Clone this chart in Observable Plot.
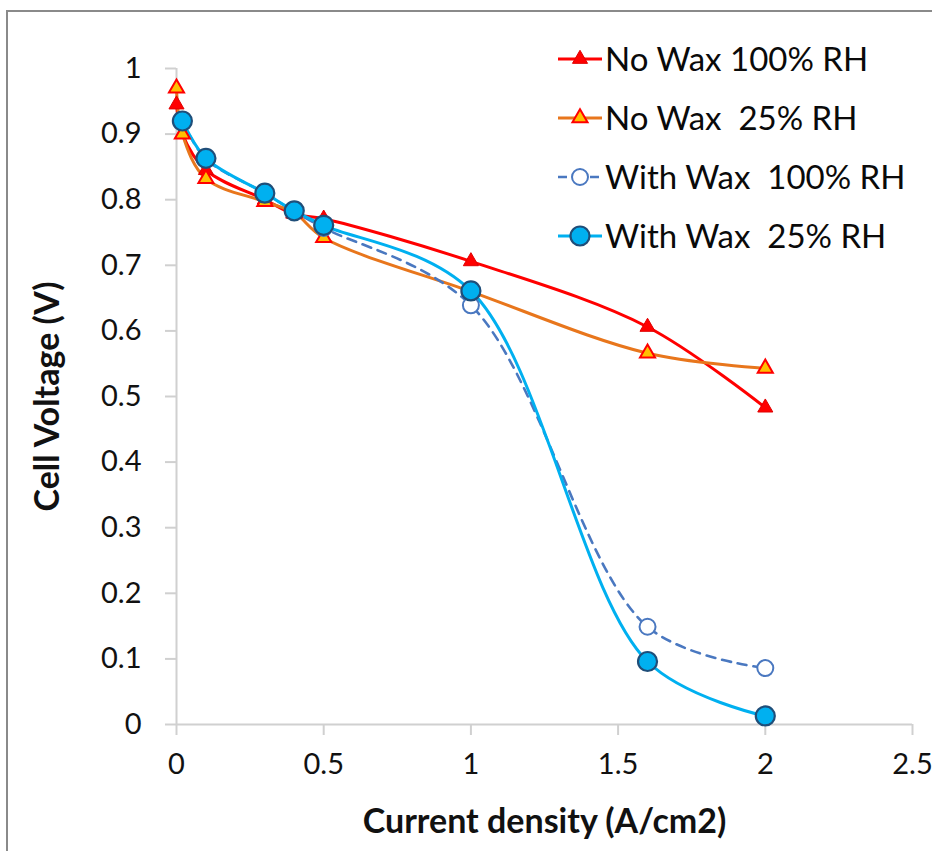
<!DOCTYPE html>
<html>
<head>
<meta charset="utf-8">
<script src="https://cdn.jsdelivr.net/npm/d3@7"></script>
<script src="https://cdn.jsdelivr.net/npm/@observablehq/plot@0.6"></script>
<style>
  html, body { margin: 0; padding: 0; background: #fff; }
  #wrap { position: relative; width: 932px; height: 851px; overflow: hidden; font-family: Lato, "Open Sans", sans-serif; }
  #border { position: absolute; left: 6px; top: 10px; right: -10px; bottom: -10px;
            border-left: 2px solid #8a8a8a; border-top: 2px solid #8a8a8a; pointer-events: none; }
  #legend { position: absolute; left: 558px; top: 29px; }
  .row { display: flex; align-items: center; height: 59px; }
  .row svg { flex: none; }
  .row span { font-size: 33px; color: #0a0a0a; white-space: pre; margin-left: 1px; line-height: 1; }
</style>
</head>
<body>
<div id="wrap">
  <div id="chart"></div>
  <div id="border"></div>
  <div id="legend"></div>
</div>
<script>
// Polarization curves: current density (A/cm2) vs. cell voltage (V)
const noWaxCurrent = [0, 0.02, 0.1, 0.3, 0.4, 0.5, 1.0, 1.6, 2.0];
const noWax100 = [0.945, 0.900, 0.845, 0.800, 0.778, 0.771, 0.706, 0.606, 0.483];
const noWax25  = [0.970, 0.900, 0.832, 0.797, 0.780, 0.742, 0.660, 0.566, 0.543];

const withWaxCurrent = [0.02, 0.1, 0.3, 0.4, 0.5, 1.0, 1.6, 2.0];
const withWax100 = [0.920, 0.862, 0.810, 0.782, 0.757, 0.639, 0.149, 0.086];
const withWax25  = [0.920, 0.863, 0.810, 0.783, 0.761, 0.661, 0.096, 0.013];

const seriesNames = ["No Wax 100% RH", "No Wax  25% RH", "With Wax  100% RH", "With Wax  25% RH"];
const xTicks = [0, 0.5, 1, 1.5, 2, 2.5];
const yTicks = [0, 0.1, 0.2, 0.3, 0.4, 0.5, 0.6, 0.7, 0.8, 0.9, 1];

const toRows = (xs, ys) => xs.map((x, i) => ({x, y: ys[i]}));
const sNoWax100 = toRows(noWaxCurrent, noWax100);
const sNoWax25 = toRows(noWaxCurrent, noWax25);
const sWithWax100 = toRows(withWaxCurrent, withWax100);
const sWithWax25 = toRows(withWaxCurrent, withWax25);

const RED = "#FF0000", ORANGE = "#E8761C", YELLOW = "#FFC000";
const CYAN = "#00B0F0", NAVY = "#1F4E79", STEEL = "#4A78C0";
const GRID = "#d0d0d0";

const chart = Plot.plot({
  width: 932,
  height: 851,
  marginLeft: 176,
  marginRight: 20,
  marginTop: 68,
  marginBottom: 127,
  style: {fontFamily: "Lato, 'Open Sans', sans-serif", background: "transparent"},
  x: {domain: [0, 2.5]},
  y: {domain: [0, 1]},
  marks: [
    Plot.ruleY([0], {stroke: GRID, strokeWidth: 2}),
    Plot.ruleX([0], {stroke: GRID, strokeWidth: 2}),
    Plot.axisX({ticks: xTicks, tickSize: 11, tickPadding: 18, fontSize: 29, stroke: GRID, strokeWidth: 2,
                fill: "#111", tickFormat: d => String(d), label: null}),
    Plot.axisY({ticks: yTicks, tickSize: 11, tickPadding: 24, fontSize: 29, stroke: GRID, strokeWidth: 2,
                fill: "#111", tickFormat: d => String(d), label: null}),
    Plot.text(["Current density (A/cm2)"], {frameAnchor: "bottom", dy: 108, fontSize: 34, fontWeight: "bold", fill: "#111"}),
    Plot.text(["Cell Voltage (V)"], {frameAnchor: "left", textAnchor: "middle", dx: -128, rotate: -90, fontSize: 34, fontWeight: "bold", fill: "#111"}),

    // smoothed series lines
    Plot.line(sNoWax100, {x: "x", y: "y", stroke: RED, strokeWidth: 3, curve: "catmull-rom"}),
    Plot.line(sNoWax25, {x: "x", y: "y", stroke: ORANGE, strokeWidth: 3, curve: "catmull-rom"}),
    Plot.line(sWithWax100, {x: "x", y: "y", stroke: STEEL, strokeWidth: 2.6, strokeDasharray: "9,7", curve: "catmull-rom"}),
    Plot.line(sWithWax25, {x: "x", y: "y", stroke: CYAN, strokeWidth: 3, curve: "catmull-rom"}),

    // markers
    Plot.dot(sNoWax100, {x: "x", y: "y", symbol: "triangle", r: 5.6, fill: RED, stroke: "#E00000", strokeWidth: 1}),
    Plot.dot(sNoWax25, {x: "x", y: "y", symbol: "triangle", r: 5.6, fill: YELLOW, stroke: RED, strokeWidth: 2}),
    Plot.dot(sWithWax100, {x: "x", y: "y", symbol: "circle", r: 8, fill: "white", stroke: STEEL, strokeWidth: 2}),
    Plot.dot(sWithWax25, {x: "x", y: "y", symbol: "circle", r: 9.5, fill: CYAN, stroke: NAVY, strokeWidth: 2.2})
  ]
});
document.getElementById("chart").appendChild(chart);

// Legend entries: line sample with marker, then the series name
const legendStyles = [
  {line: RED, width: 3, dash: null, marker: "tri", fill: RED, stroke: "#E00000", sw: 1},
  {line: ORANGE, width: 3, dash: null, marker: "tri", fill: YELLOW, stroke: RED, sw: 2},
  {line: STEEL, width: 2.6, dash: "9,7", marker: "circle", r: 8, fill: "white", stroke: STEEL, sw: 2},
  {line: CYAN, width: 3, dash: null, marker: "circle", r: 9.5, fill: CYAN, stroke: NAVY, sw: 2.2}
];
const legend = d3.select("#legend");
seriesNames.forEach((name, i) => {
  const s = legendStyles[i];
  const row = legend.append("div").attr("class", "row");
  const svg = row.append("svg").attr("width", 46).attr("height", 30);
  svg.append("line").attr("x1", 0).attr("x2", 44).attr("y1", 15).attr("y2", 15)
    .attr("stroke", s.line).attr("stroke-width", s.width).attr("stroke-dasharray", s.dash);
  if (s.marker === "tri") {
    svg.append("path").attr("transform", "translate(22,15)")
      .attr("d", d3.symbol(d3.symbolTriangle, Math.PI * 5.6 * 5.6)())
      .attr("fill", s.fill).attr("stroke", s.stroke).attr("stroke-width", s.sw);
  } else {
    svg.append("circle").attr("cx", 22).attr("cy", 15).attr("r", s.r)
      .attr("fill", s.fill).attr("stroke", s.stroke).attr("stroke-width", s.sw);
  }
  row.append("span").text(name);
});
</script>
</body>
</html>
